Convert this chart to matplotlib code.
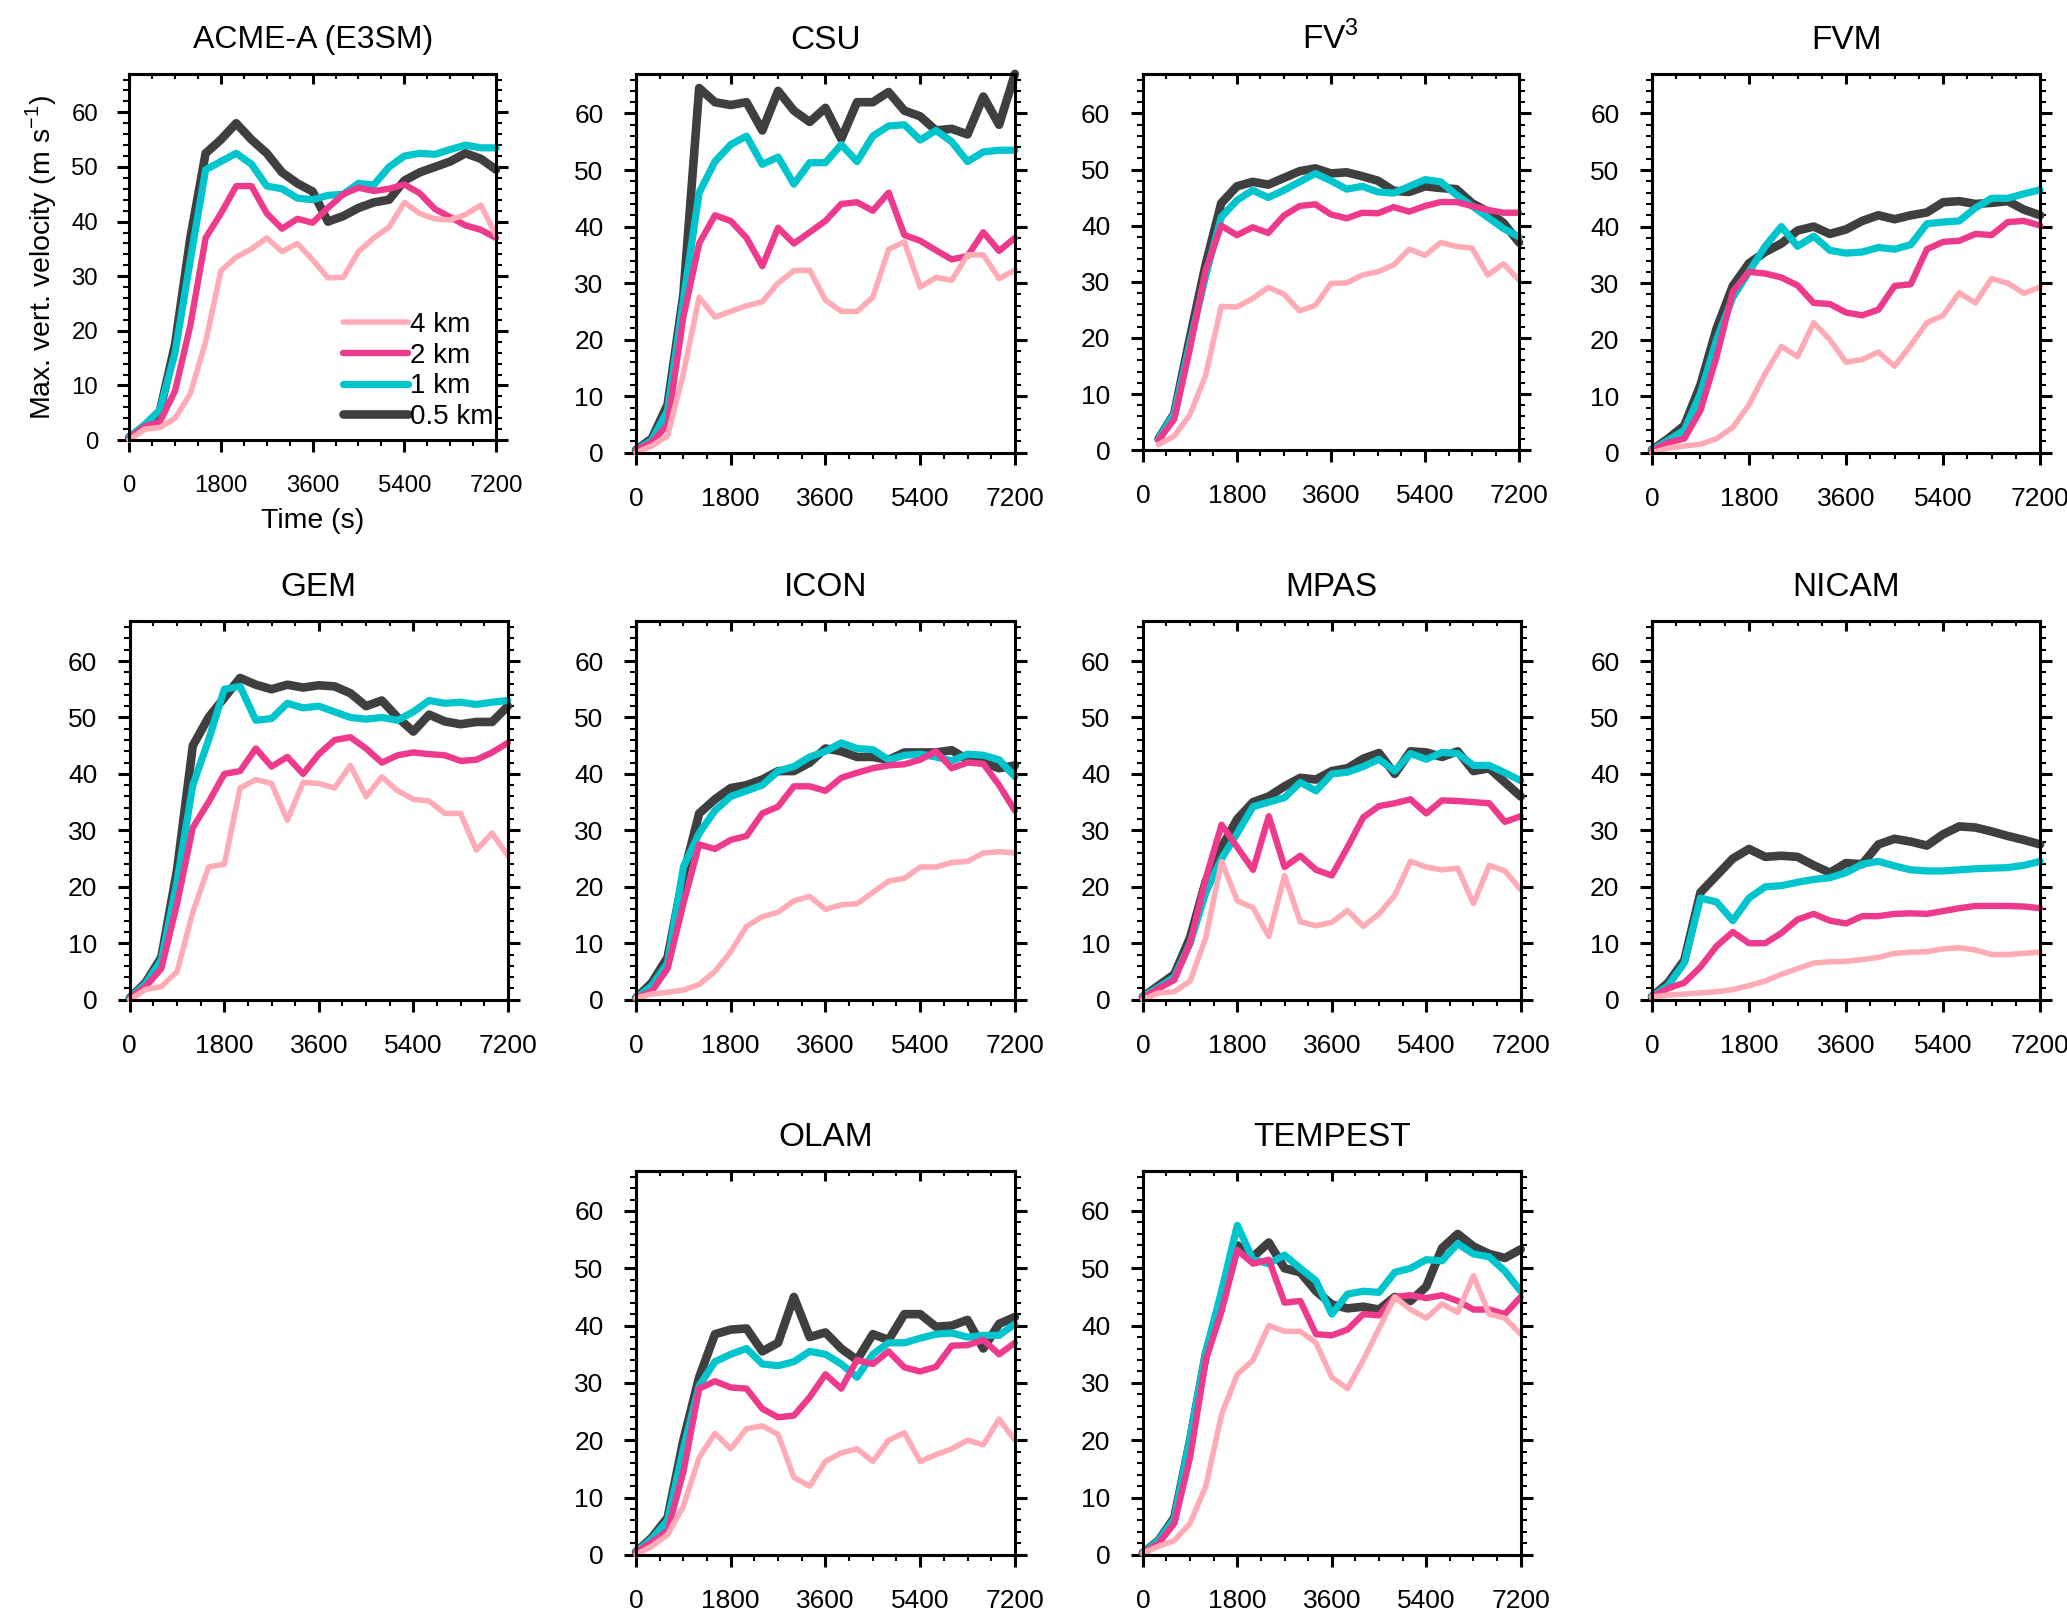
import matplotlib
matplotlib.use("Agg")
import matplotlib.pyplot as plt
from matplotlib.ticker import MultipleLocator

plt.rcParams['font.family'] = ['Liberation Sans', 'DejaVu Sans']
plt.rcParams['mathtext.fontset'] = 'custom'
plt.rcParams['mathtext.rm'] = 'Liberation Sans'

# time axis (s), output every 300 s
times = [0, 300, 600, 900, 1200, 1500, 1800, 2100, 2400, 2700, 3000, 3300, 3600,
         3900, 4200, 4500, 4800, 5100, 5400, 5700, 6000, 6300, 6600, 6900, 7200]
times_fv3 = times[1:]

res_labels = ['4 km', '2 km', '1 km', '0.5 km']

# ACME-A (E3SM)
acme_4km = [0, 2, 2.3, 4, 8.5, 18, 31, 33.5, 35, 37, 34.5, 36, 33, 29.7, 29.8, 34.5, 37, 39, 43.5, 41.5, 40.5, 40.3, 41.3, 43, 37.5]
acme_2km = [0.3, 2.5, 3.3, 9, 21, 37, 41.5, 46.5, 46.5, 41.5, 38.7, 40.5, 39.8, 42.5, 45, 46.2, 45.6, 46, 46.8, 45.2, 42.3, 40.8, 39.3, 38.5, 37]
acme_1km = [0.5, 2.8, 5.5, 16, 33, 49.5, 51, 52.5, 50.5, 46.5, 46, 44.3, 44, 44.8, 45, 47, 46.7, 50, 52, 52.5, 52.3, 53.2, 54, 53.5, 53.5]
acme_05km = [0.5, 2.4, 5.2, 17.5, 37, 52.5, 55, 58, 55, 52.5, 49, 47, 45.5, 40, 41, 42.5, 43.5, 44, 47.5, 49, 50, 51, 52.5, 51.5, 49.5]

# CSU
csu_4km = [0, 1.2, 3, 14, 27.5, 24, 25, 26, 26.7, 30, 32.2, 32.3, 27, 25, 25, 27.5, 36, 37.3, 29.3, 31, 30.5, 35, 35, 30.8, 32.3]
csu_2km = [0.5, 1.8, 5, 24, 37, 42, 41, 38, 33, 39.8, 37, 39, 41, 44, 44.3, 42.8, 46, 38.5, 37.5, 35.8, 34.2, 34.8, 39, 35.7, 38]
csu_1km = [0.5, 2.2, 7.5, 27, 46, 51.5, 54.5, 56, 51, 52.3, 47.5, 51.3, 51.3, 54.5, 51.5, 56, 57.8, 58, 55.3, 57, 55, 51.5, 53.2, 53.5, 53.5]
csu_05km = [0.5, 2.5, 8.5, 28, 64.5, 62, 61.5, 62, 57, 64, 60.5, 58.5, 61, 55.5, 62, 62, 63.8, 60.5, 59.5, 57, 57.3, 56.3, 63, 58, 67]

# FV3 (starts at 300 s)
fv3_4km = [1, 2.5, 6.3, 13.3, 25.6, 25.5, 27, 29, 27.8, 24.8, 25.8, 29.7, 29.8, 31.2, 31.8, 33, 35.8, 34.7, 37, 36.3, 36, 31.2, 33.2, 30.3]
fv3_2km = [1.8, 5.5, 18, 32, 40, 38.3, 39.7, 38.7, 41.8, 43.5, 43.8, 42, 41.3, 42.3, 42.2, 43.3, 42.5, 43.5, 44.2, 44.2, 43.5, 42.8, 42.3, 42.3]
fv3_1km = [2, 6.5, 19, 31, 41.5, 44.5, 46.3, 45, 46.3, 47.8, 49.3, 48, 46.5, 47, 46, 45.8, 47, 48.2, 47.8, 45.5, 43.5, 41.5, 39.5, 38]
fv3_05km = [2, 6.5, 20, 33, 44, 47, 47.8, 47.3, 48.5, 49.7, 50.2, 49.3, 49.5, 48.8, 48, 46.2, 46, 47, 46.7, 46.5, 44, 42.5, 40.5, 37]

# FVM
fvm_4km = [0, 0.8, 1.2, 1.5, 2.5, 4.5, 8.5, 14, 18.8, 17, 23, 20, 16, 16.5, 17.8, 15.3, 19, 23, 24.3, 28.3, 26.5, 30.8, 30, 28.2, 29.3]
fvm_2km = [0.3, 1.8, 2.5, 7.5, 17, 28.5, 32, 31.7, 31, 29.6, 26.5, 26.3, 24.8, 24.3, 25.3, 29.5, 29.8, 36, 37.3, 37.5, 38.7, 38.5, 40.8, 41, 40.2]
fvm_1km = [0.5, 2.2, 4, 10.5, 20, 27.5, 32, 36.5, 40, 36.5, 38.3, 35.8, 35.3, 35.5, 36.3, 36, 36.8, 40.5, 40.8, 41, 43.3, 45, 45, 45.8, 46.5]
fvm_05km = [0.5, 2.5, 4.8, 12, 22, 29.5, 33.5, 35.5, 37, 39.3, 40, 38.7, 39.5, 41, 42, 41.3, 42, 42.5, 44.3, 44.5, 44, 44.2, 44.5, 43, 42]

# GEM
gem_4km = [0, 1.8, 2.3, 5, 15.5, 23.5, 24, 37.5, 39, 38.3, 31.8, 38.5, 38.3, 37.5, 41.5, 36, 39.5, 37, 35.5, 35.2, 33, 33, 26.5, 29.5, 25.5]
gem_2km = [0.3, 2.3, 5.5, 17, 30.5, 35, 40, 40.5, 44.5, 41.3, 43, 40, 43.5, 46, 46.5, 44.5, 42, 43.3, 43.8, 43.5, 43.3, 42.3, 42.5, 43.8, 45.5]
gem_1km = [0.3, 2.8, 7, 21, 38, 46, 55, 55.5, 49.5, 49.8, 52.5, 51.7, 52, 51, 50, 49.7, 50, 49.5, 51, 53, 52.5, 52.7, 52.3, 52.7, 53]
gem_05km = [0.3, 3, 7.5, 23, 45, 50, 53.5, 57, 55.8, 55, 55.8, 55.3, 55.7, 55.5, 54.3, 52, 53, 50, 47.5, 50.5, 49.3, 48.8, 49.2, 49.2, 52]

# ICON
icon_4km = [0.3, 1, 1.3, 1.7, 2.7, 5, 8.5, 13, 14.7, 15.5, 17.5, 18.3, 16, 16.8, 17, 19, 21, 21.5, 23.5, 23.5, 24.3, 24.5, 26, 26.2, 26]
icon_2km = [0.3, 1.5, 5.5, 17, 27.5, 26.7, 28.3, 29, 33, 34.2, 37.8, 37.8, 37, 39.3, 40.2, 41, 41.5, 41.7, 42.5, 44, 41, 42, 41.8, 38, 33.5]
icon_1km = [0.3, 2.5, 6.5, 23.5, 29.5, 33.5, 36, 37, 38, 40.5, 41.3, 43, 44, 45.5, 44.5, 44.3, 42.5, 43.3, 43.5, 43, 42.3, 43.5, 43.3, 42.5, 39.5]
icon_05km = [0.3, 3, 7.5, 22, 33, 35.5, 37.5, 38, 39, 40.5, 40.5, 42, 44.5, 44, 43, 43, 42.5, 43.8, 43.8, 43.8, 44.2, 42.5, 42, 41, 41.5]

# MPAS
mpas_4km = [0, 1.2, 1.4, 3.3, 11, 24.5, 17.5, 16.3, 11.2, 22, 13.8, 13.1, 13.7, 15.8, 13, 15.2, 18.5, 24.5, 23.5, 23, 23.3, 17, 23.8, 22.8, 19.5]
mpas_2km = [0.3, 2, 3.5, 10, 21.5, 31, 27, 23, 32.5, 23.5, 25.5, 23, 22, 27, 32.3, 34.3, 34.8, 35.5, 33, 35.3, 35.2, 35, 34.8, 31.5, 32.5]
mpas_1km = [0.5, 2.2, 4, 10, 19, 25, 29.5, 34.2, 35, 35.8, 38.5, 37, 40, 40.3, 41.3, 42.6, 40.5, 43.6, 42.6, 43.8, 43.6, 41.5, 41.5, 40.2, 38.8]
mpas_05km = [0.5, 2.5, 4.5, 11, 21, 27, 32, 35, 36, 37.8, 39.3, 39, 40.5, 41, 42.7, 43.7, 40, 44, 43.8, 43, 44, 40.5, 41, 38.5, 36]

# NICAM
nicam_4km = [0.5, 0.8, 1, 1.2, 1.4, 1.8, 2.5, 3.3, 4.5, 5.5, 6.5, 6.7, 6.8, 7.1, 7.5, 8.2, 8.4, 8.5, 9, 9.2, 8.8, 8, 8, 8.2, 8.4]
nicam_2km = [0.5, 2, 3, 5.8, 9.5, 12, 10, 10, 11.8, 14.2, 15.2, 14, 13.5, 14.8, 14.8, 15.2, 15.3, 15.2, 15.7, 16.2, 16.6, 16.6, 16.6, 16.5, 16.2]
nicam_1km = [0.5, 2.5, 6.5, 18, 17.3, 14, 18, 20, 20.2, 20.8, 21.3, 21.6, 22.5, 24, 24.5, 23.7, 23, 22.8, 22.8, 23, 23.2, 23.3, 23.4, 23.8, 24.5]
nicam_05km = [0.5, 3, 7, 19, 22, 25, 26.7, 25.3, 25.5, 25.3, 23.8, 22.5, 24.2, 24, 27.5, 28.5, 28, 27.3, 29.3, 30.7, 30.5, 29.8, 29, 28.3, 27.5]

# OLAM
olam_4km = [0, 1.5, 3.5, 8.5, 17, 21.2, 18.5, 22, 22.5, 21, 13.5, 12, 16.3, 17.8, 18.5, 16.3, 20, 21.3, 16.3, 17.5, 18.5, 20, 19.2, 23.7, 20]
olam_2km = [0.5, 2.2, 4.2, 14.5, 29, 30.3, 29.2, 29, 25.5, 24, 24.3, 27.5, 31.5, 29, 34, 33.3, 35.5, 32.7, 32, 32.8, 36.5, 36.6, 37.5, 35, 37]
olam_1km = [0.5, 2.8, 6, 18.5, 29.5, 33.7, 35, 36, 33.3, 33, 33.7, 35.5, 35, 33.3, 31, 35, 37, 37, 37.8, 38.5, 38.7, 38, 38.3, 38.3, 40.3]
olam_05km = [0.5, 3, 6.5, 20, 31, 38.5, 39.3, 39.5, 35.5, 37, 45, 38, 38.8, 36, 34, 38.5, 37.5, 42, 42, 39.8, 40, 41, 36, 40.3, 41.5]

# TEMPEST
tempest_4km = [0.3, 1.5, 2.5, 5.5, 12, 24.5, 31.5, 34, 40, 39, 39, 37, 31, 29, 34, 39.5, 45, 42.8, 41.3, 43.8, 42.3, 48.7, 42, 41.3, 38.5]
tempest_2km = [0.3, 2, 5.5, 17, 34, 42.5, 53.2, 50.8, 51.5, 44, 44.3, 38.5, 38.3, 39.3, 42, 41.8, 45, 45.3, 44.8, 45.3, 44.3, 42.8, 42.8, 42, 45]
tempest_1km = [0.3, 2.5, 6.3, 20.5, 35.5, 46, 57.5, 51.5, 50.8, 52.3, 50, 47.8, 42, 45.5, 46, 45.8, 49.3, 50, 51.5, 51.3, 54.3, 52.5, 52, 49.5, 46]
tempest_05km = [0.3, 2.5, 6.5, 20, 35, 44, 54, 52, 54.5, 50, 49.3, 46, 43.7, 43, 43.3, 42.8, 45, 44.3, 46.8, 53.5, 56, 53.8, 52.5, 51.8, 53.3]

colors = ['#ffabb6', '#ee3a8c', '#00c5cd', '#3f3f3f']
widths = [4.0, 4.6, 5.2, 6.2]

# (title, x, series 4/2/1/0.5 km, axes rect in figure fraction)
panels = [
    ('ACME-A (E3SM)', times, [acme_4km, acme_2km, acme_1km, acme_05km], [0.0625, 0.7285, 0.1775, 0.2258]),
    ('CSU', times, [csu_4km, csu_2km, csu_1km, csu_05km], [0.3077, 0.7207, 0.1833, 0.2337]),
    ('FV$^\\mathregular{3}$', times_fv3, [fv3_4km, fv3_2km, fv3_1km, fv3_05km], [0.5529, 0.7223, 0.1820, 0.2320]),
    ('FVM', times, [fvm_4km, fvm_2km, fvm_1km, fvm_05km], [0.7992, 0.7207, 0.1878, 0.2337]),
    ('GEM', times, [gem_4km, gem_2km, gem_1km, gem_05km], [0.0628, 0.3833, 0.1829, 0.2333]),
    ('ICON', times, [icon_4km, icon_2km, icon_1km, icon_05km], [0.3077, 0.3833, 0.1833, 0.2333]),
    ('MPAS', times, [mpas_4km, mpas_2km, mpas_1km, mpas_05km], [0.5529, 0.3833, 0.1828, 0.2333]),
    ('NICAM', times, [nicam_4km, nicam_2km, nicam_1km, nicam_05km], [0.7992, 0.3833, 0.1878, 0.2333]),
    ('OLAM', times, [olam_4km, olam_2km, olam_1km, olam_05km], [0.3077, 0.0408, 0.1833, 0.2369]),
    ('TEMPEST', times, [tempest_4km, tempest_2km, tempest_1km, tempest_05km], [0.5529, 0.0408, 0.1828, 0.2369]),
]

xticks = [0, 1800, 3600, 5400, 7200]
yticks = [0, 10, 20, 30, 40, 50, 60]

fig = plt.figure(figsize=(20.67, 16.21), dpi=100)

for i, (title, x, series, rect) in enumerate(panels):
    ax = fig.add_axes(rect)
    first = (i == 0)
    fs = 17.3 if first else 19
    tfs = 23 if first else 24

    handles = [None] * 4
    # draw 0.5 km first, 4 km last (on top)
    for j in [3, 2, 1, 0]:
        h, = ax.plot(x, series[j], color=colors[j], lw=widths[j], clip_on=False,
                     solid_capstyle='round', solid_joinstyle='round', label=res_labels[j])
        handles[j] = h

    ax.set_xlim(0, 7200)
    ax.set_ylim(0, 67)
    ax.set_xticks(xticks)
    ax.set_yticks(yticks)
    ax.xaxis.set_minor_locator(MultipleLocator(450))
    ax.yaxis.set_minor_locator(MultipleLocator(2))
    ax.tick_params(axis='x', which='both', direction='out', bottom=True, top=False)
    ax.tick_params(axis='y', which='both', direction='out', left=True, right=True)
    ax.tick_params(axis='x', which='major', pad=17 if first else 16)
    ax.tick_params(axis='y', which='major', pad=14 if first else 15)
    ax.tick_params(which='major', length=8.4, width=2.2, labelsize=fs)
    ax.tick_params(which='minor', length=4.3, width=1.5)
    for s in ax.spines.values():
        s.set_linewidth(2.2)

    top = ax.secondary_xaxis('top')
    top.set_xticks(xticks)
    top.xaxis.set_minor_locator(MultipleLocator(450))
    top.tick_params(which='both', direction='in', labeltop=False)
    top.tick_params(which='major', length=7.2, width=2.2)
    top.tick_params(which='minor', length=3.6, width=1.5)
    top.spines['top'].set_linewidth(2.2)

    ax.set_title(title, fontsize=tfs, pad=19 if first else 18)

    if first:
        ax.set_ylabel('Max. vert. velocity (m s$^\\mathregular{-1}$)', fontsize=20.5, labelpad=9)
        ax.set_xlabel('Time (s)', fontsize=20.5, labelpad=8)
        ax.legend(handles=handles, loc='lower right', bbox_to_anchor=(1.0, 0.02),
                  frameon=False, fontsize=20, handlelength=2.35, handletextpad=0.05,
                  labelspacing=0.17, borderpad=0.1, borderaxespad=0.0)

fig.savefig('out.png', dpi=100)
